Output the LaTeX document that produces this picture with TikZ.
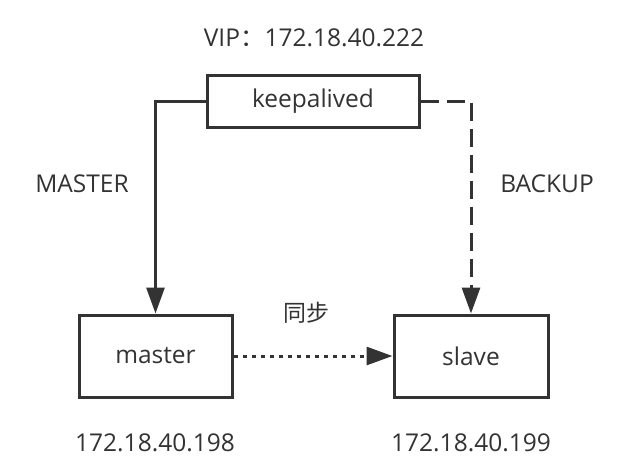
\documentclass[tikz,border=0pt]{standalone}
\usepackage{fontspec}
\setmainfont{Open Sans}
\newfontfamily\cjk{Noto Sans CJK SC}
\usetikzlibrary{arrows.meta}
\definecolor{ink}{HTML}{333333}
\tikzset{
  boxnode/.style={draw=ink, line width=3pt, text=ink, inner sep=0pt, font=\fontsize{24.5}{28}\selectfont},
  lbl/.style={text=ink, inner sep=0pt, anchor=base, font=\fontsize{24.5}{28}\selectfont},
  conn/.style={draw=ink, line width=3pt, -{Triangle[length=26pt,width=18pt]}},
  dashconn/.style={conn, dash pattern=on 18pt off 8pt},
  dotconn/.style={conn, dash pattern=on 4pt off 5pt},
}
\begin{document}
\begin{tikzpicture}[x=1pt,y=-1pt]
\useasboundingbox (0,0) rectangle (625,475);
\node[boxnode, minimum width=212pt, minimum height=52pt] (keep) at (313,101) {keepalived};
\node[boxnode, minimum width=153pt, minimum height=82pt] (master) at (155.5,356) {master};
\node[boxnode, minimum width=154pt, minimum height=82pt] (slave) at (471,356) {slave};
\node[lbl] (vip) at (314,46) {VIP{\cjk ：}172.18.40.222};
\node[lbl] (mlbl) at (82,192) {MASTER};
\node[lbl] (blbl) at (547,192) {BACKUP};
\node[lbl, font=\cjk\fontsize{23}{27}\selectfont] (sync) at (306,321) {同步};
\node[lbl] (mip) at (155,451) {172.18.40.198};
\node[lbl] (sip) at (471,451) {172.18.40.199};
\draw[conn] (keep.west) -| (master.north);
\draw[dashconn] (keep.east) -| (slave.north);
\draw[dotconn] (master.east) -- (slave.west);
\end{tikzpicture}
\end{document}
